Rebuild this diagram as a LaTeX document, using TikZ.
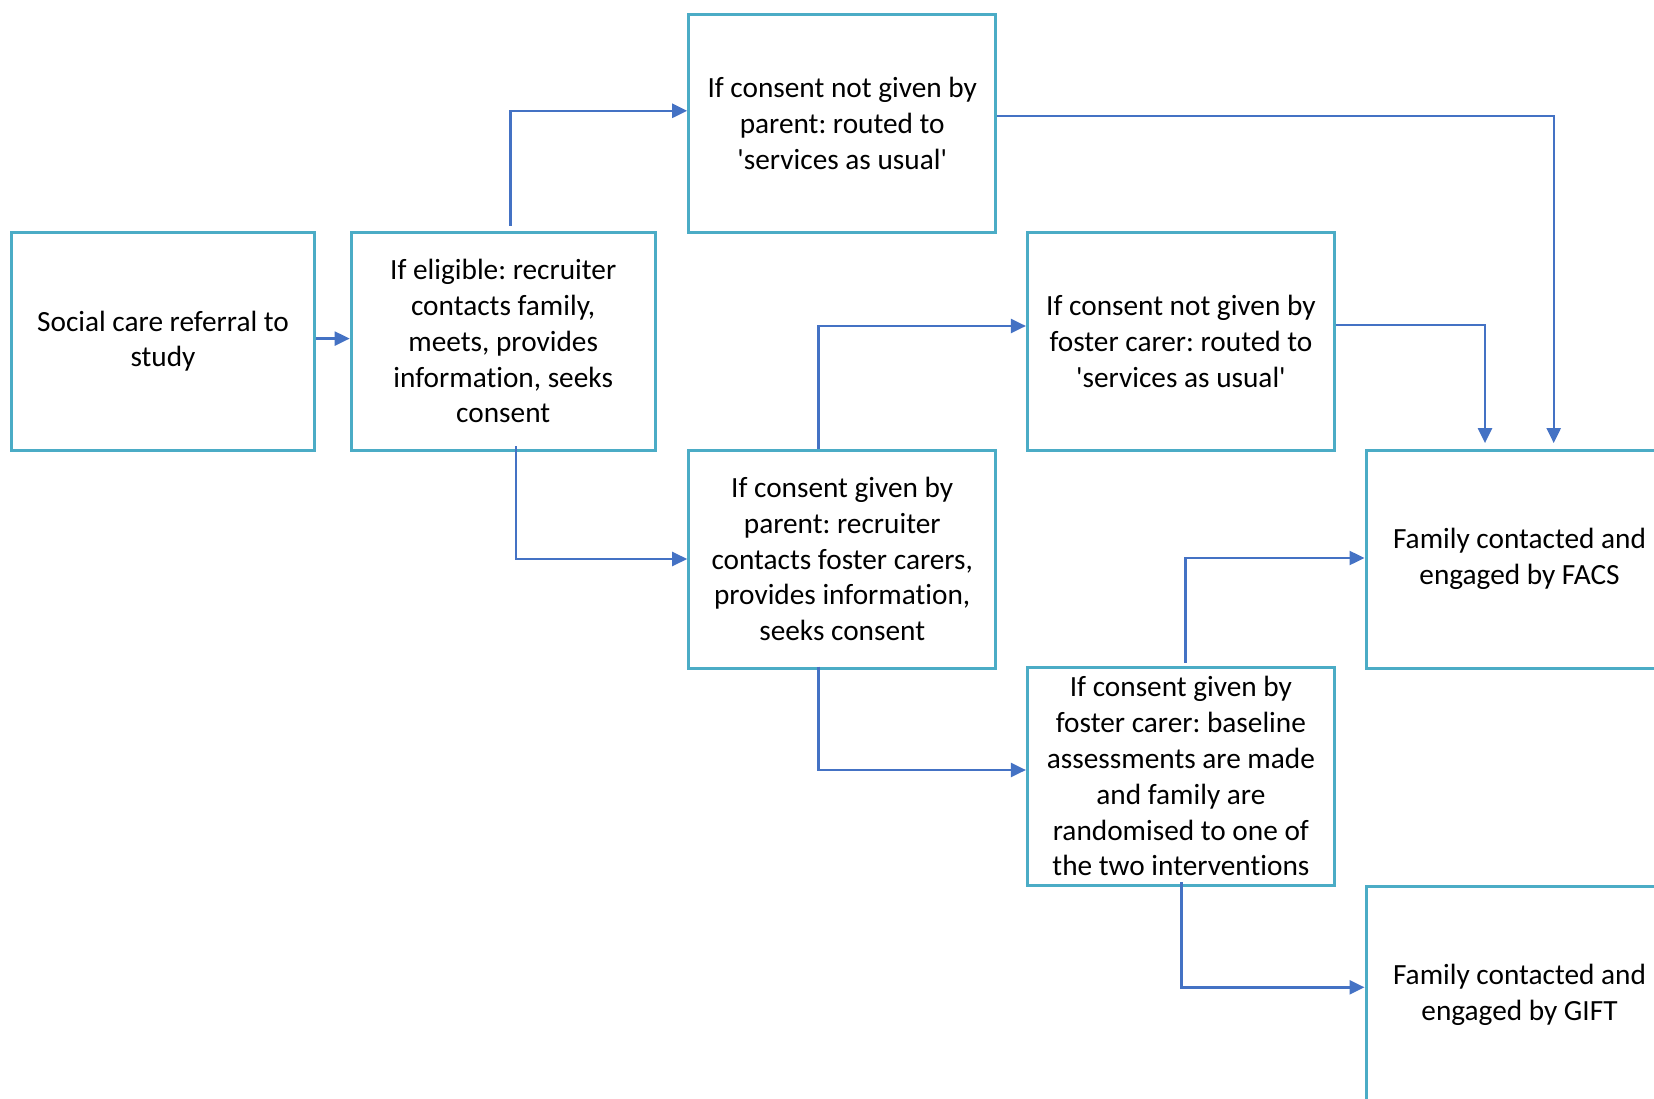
\documentclass[tikz,border=0pt]{standalone}
\usepackage{fontspec}
\setmainfont{Carlito}[Ligatures={TeXOff,CommonOff}]
\usetikzlibrary{arrows.meta}
\definecolor{boxc}{HTML}{4BACC6}
\definecolor{arrc}{HTML}{4472C4}
\begin{document}
\frenchspacing
\begin{tikzpicture}[x=1pt,y=-1pt,
  box/.style={draw=boxc, line width=3pt, rectangle, minimum width=307pt,
    minimum height=218pt, inner sep=0pt, align=center,
    font=\fontsize{29.3}{35.8}\selectfont},
  arr/.style={draw=arrc, line width=2.4pt, -{Triangle[length=15pt,width=14pt]}}]
\path[use as bounding box] (0,0) rectangle (1654,1099);
\begin{scope}
\clip (0,0) rectangle (1654,1099);
\node[box, minimum width=303pt] (A) at (163,341.2) {Social care referral to\\study};
\node[box, minimum width=304pt] (B) at (503.2,341.2) {If eligible: recruiter\\contacts family,\\meets, provides\\information, seeks\\consent};
\node[box] (C) at (842.2,123.4) {If consent not given by\\parent: routed to\\'services as usual'};
\node[box] (D) at (842.2,559) {If consent given by\\parent: recruiter\\contacts foster carers,\\provides information,\\seeks consent};
\node[box] (E) at (1180.9,341.2) {If consent not given by\\foster carer: routed to\\'services as usual'};
\node[box] (F) at (1180.9,776.4) {If consent given by\\foster carer: baseline\\assessments are made\\and family are\\randomised to one of\\the two interventions};
\node[box] (G) at (1519.5,559) {Family contacted and\\engaged by FACS};
\node[box] (H) at (1519.5,995) {Family contacted and\\engaged by GIFT};

\draw[arr] ([yshift=2.6pt]A.east) -- ([yshift=2.6pt]B.west);
\draw[arr] ([xshift=7.3pt,yshift=5pt]B.north) |- ([yshift=12.6pt]C.west);
\draw[arr] ([xshift=12.6pt,yshift=5.4pt]B.south) |- (D.west);
\draw[arr] ([xshift=-23.7pt]D.north) |- ([yshift=15.2pt]E.west);
\draw[arr] ([xshift=-23.7pt,yshift=3pt]D.south) |- ([yshift=6.4pt]F.west);
\draw[arr] ([yshift=7.4pt]C.east) -| ([xshift=34.2pt,yshift=5.4pt]G.north);
\draw[arr] ([yshift=16.2pt]E.east) -| ([xshift=-34.5pt,yshift=5.4pt]G.north);
\draw[arr] ([xshift=4.7pt,yshift=3pt]F.north) |- ([yshift=1pt]G.west);
\draw[arr] ([xshift=0.5pt,yshift=4.6pt]F.south) |- ([yshift=7.7pt]H.west);
\end{scope}
\end{tikzpicture}
\end{document}
